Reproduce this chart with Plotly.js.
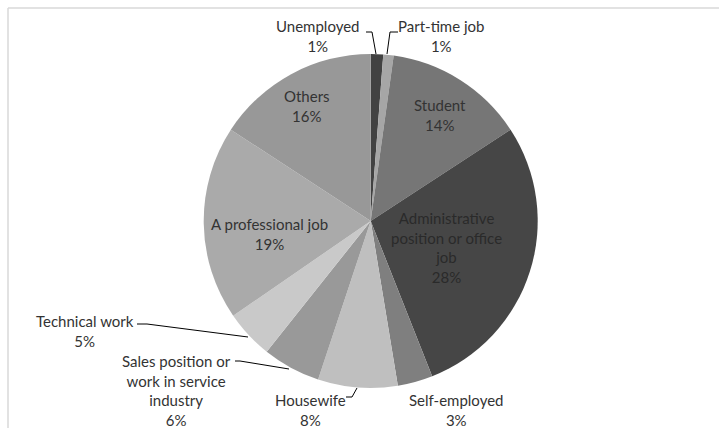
<!DOCTYPE html>
<html>
<head>
<meta charset="utf-8">
<script src="https://cdn.plot.ly/plotly-3.0.1.min.js"></script>
<style>html,body{margin:0;padding:0;background:#fff;}#chart{width:719px;height:428px;}</style>
</head>
<body>
<div id="chart"></div>
<script>
const categories = ["Unemployed", "Part-time job", "Student", "Administrative position or office job", "Self-employed", "Housewife", "Sales position or work in service industry", "Technical work", "A professional job", "Others"];
const values = [1.2, 1.0, 13.6, 28.2, 3.4, 7.7, 5.6, 4.7, 18.8, 15.8];
const pctLabels = ["1%", "1%", "14%", "28%", "3%", "8%", "6%", "5%", "19%", "16%"];
const displayLabels = ["Unemployed", "Part-time job", "Student", "Administrative<br>position or office<br>job", "Self-employed", "Housewife", "Sales position or<br>work in service<br>industry", "Technical work", "A professional job", "Others"];
const colors = ["#424242", "#a6a6a6", "#767676", "#464646", "#7f7f7f", "#bfbfbf", "#999999", "#c9c9c9", "#aaaaaa", "#989898"];
const textColors = ["#333333", "#333333", "#333333", "#2a2a2a", "#333333", "#333333", "#333333", "#333333", "#333333", "#333333"];

// label anchor positions in pixels (centre of text block)
const labelPos = [[318, 36], [441, 36], [440, 115], [446, 247], [456, 410], [310, 410], [176, 390], [85, 331], [269, 234], [307, 106]];
// leader lines in pixels
const leaders = [
  [[366, 32], [372, 32], [376, 54]],
  [[398, 32], [390, 32], [387, 54]],
  null, null, null,
  [[346, 397], [352, 397], [357, 388]],
  [[235, 361], [240, 361], [289, 369]],
  [[137, 324], [147, 324], [248, 337]],
  null, null
];

const W = 719, H = 428;
const px = x => x / W, py = y => 1 - y / H;
const cx = 370.7, cy = 221, R = 167;

const annotations = categories.map((c, i) => ({
  x: px(labelPos[i][0]), y: py(labelPos[i][1]), xref: 'paper', yref: 'paper',
  text: displayLabels[i] + '<br>' + pctLabels[i], showarrow: false,
  xanchor: 'center', yanchor: 'middle', align: 'center',
  font: {family: 'Lato, "Open Sans", sans-serif', size: 15, color: textColors[i]}
}));

const shapes = [
  {type: 'line', xref: 'paper', yref: 'paper', x0: px(8), y0: py(8), x1: px(719), y1: py(8), line: {color: '#d9d9d9', width: 1.5}},
  {type: 'line', xref: 'paper', yref: 'paper', x0: px(8), y0: py(8), x1: px(8), y1: py(428), line: {color: '#d9d9d9', width: 1.5}}
];
leaders.forEach(l => {
  if (!l) return;
  const path = l.map((p, k) => (k ? 'L' : 'M') + px(p[0]) + ',' + py(p[1])).join(' ');
  shapes.push({type: 'path', xref: 'paper', yref: 'paper', path: path, line: {color: '#000', width: 1}});
});

const trace = {
  type: 'pie', labels: categories, values: values, sort: false, direction: 'clockwise', rotation: 0,
  marker: {colors: colors, line: {width: 0}}, textinfo: 'none', hoverinfo: 'label+percent',
  domain: {x: [px(cx - R), px(cx + R)], y: [py(cy + R), py(cy - R)]}
};

Plotly.newPlot('chart', [trace], {
  width: W, height: H, margin: {l: 0, r: 0, t: 0, b: 0},
  paper_bgcolor: '#fff', showlegend: false, annotations: annotations, shapes: shapes
}, {displayModeBar: false, staticPlot: true});
</script>
</body>
</html>
